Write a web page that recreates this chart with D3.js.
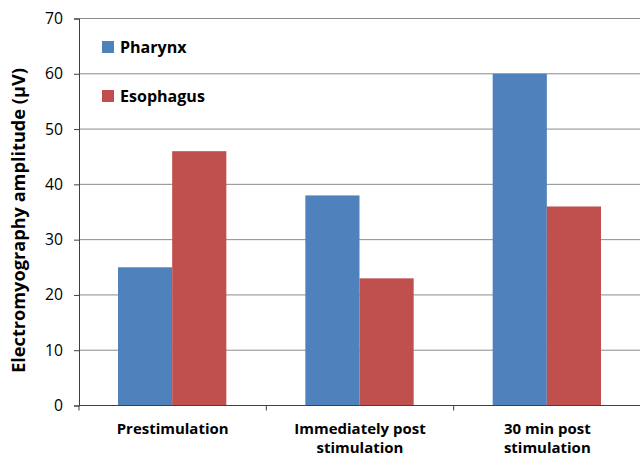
<!DOCTYPE html>
<html><head><meta charset="utf-8">
<script src="https://cdn.jsdelivr.net/npm/d3@7"></script>
<style>body{margin:0;background:#fff}svg{display:block}text{font-family:"Open Sans",Lato,sans-serif}</style>
</head><body>
<svg id="c" width="640" height="456"></svg>
<script>
const categories = [["Prestimulation"], ["Immediately post", "stimulation"], ["30 min post", "stimulation"]];
const seriesNames = ["Pharynx", "Esophagus"];
const pharynx = [25, 38, 60];
const esophagus = [46, 23, 36];
const yTicks = [0, 10, 20, 30, 40, 50, 60, 70];
const colors = ["#4F81BD", "#C0504D"];

const svg = d3.select("#c");
const mLeft = 79, mRight = 641, mTop = 18.5, mBottom = 405.5;
const x = d3.scaleBand().domain(d3.range(categories.length)).range([mLeft, mRight]).paddingInner(0).paddingOuter(0);
const inner = d3.scaleBand().domain([0, 1]).range([39, x.bandwidth() - 40]);
const y = d3.scaleLinear().domain([0, 70]).range([mBottom, mTop]);

// fit a font size so the sample text reaches the given width
function fitSize(text, weight, width) {
  const t = svg.append("text").attr("font-size", 20).attr("font-weight", weight).text(text);
  const w = t.node().getComputedTextLength();
  t.remove();
  return 20 * width / w;
}
const catSize = fitSize("Prestimulation", "bold", 112);
const titleSize = fitSize("Electromyography amplitude (μV)", "bold", 305);
const legSize = fitSize("Esophagus", "bold", 85);
const tickSize = fitSize("70", "normal", 18);

// gridlines
svg.append("g").selectAll("line").data(yTicks.filter(d => d > 0)).join("line")
  .attr("x1", mLeft).attr("x2", mRight).attr("y1", d => y(d)).attr("y2", d => y(d))
  .attr("stroke", "#8c8c8c").attr("stroke-width", 1);

const data = [pharynx, esophagus];
data.forEach((vals, si) => {
  svg.append("g").selectAll("rect").data(vals).join("rect")
    .attr("x", (d, i) => x(i) + inner(si))
    .attr("width", inner.bandwidth())
    .attr("y", d => y(d))
    .attr("height", d => y(0) - y(d))
    .attr("fill", colors[si]);
});

// y axis
const yAxis = d3.axisLeft(y).tickValues(yTicks).tickSize(5).tickPadding(11);
const ga = svg.append("g").attr("transform", `translate(${mLeft},0)`).call(yAxis);
ga.select(".domain").attr("stroke", "#404040");
ga.selectAll(".tick line").attr("stroke", "#404040");
ga.selectAll(".tick text").attr("font-size", tickSize).attr("fill", "#000").attr("font-family", "'Open Sans',sans-serif");

// x axis
const gx = svg.append("g").attr("transform", `translate(0,${mBottom})`);
gx.append("line").attr("x1", mLeft).attr("x2", mRight).attr("stroke", "#404040");
gx.selectAll("line.t").data(d3.range(categories.length + 1)).join("line").attr("class", "t")
  .attr("x1", i => mLeft + i * x.bandwidth()).attr("x2", i => mLeft + i * x.bandwidth())
  .attr("y1", 0).attr("y2", 5).attr("stroke", "#404040");
categories.forEach((lines, i) => {
  const t = gx.append("text").attr("x", x(i) + x.bandwidth() / 2).attr("y", 28.5)
    .attr("text-anchor", "middle").attr("font-size", catSize).attr("font-weight", "bold");
  lines.forEach((l, j) => t.append("tspan").attr("x", x(i) + x.bandwidth() / 2).attr("dy", j === 0 ? 0 : 18.5).text(l));
});

// y title
svg.append("text").attr("transform", `translate(25,${(68 + 373) / 2}) rotate(-90)`)
  .attr("text-anchor", "middle").attr("font-size", titleSize).attr("font-weight", "bold")
  .text("Electromyography amplitude (μV)");

// legend
seriesNames.forEach((n, i) => {
  const g = svg.append("g").attr("transform", `translate(102,${41 + i * 49})`);
  g.append("rect").attr("width", 12).attr("height", 12).attr("fill", colors[i]);
  g.append("text").attr("x", 18).attr("y", 12).attr("font-size", legSize).attr("font-weight", "bold").text(n);
});
</script>
</body></html>
